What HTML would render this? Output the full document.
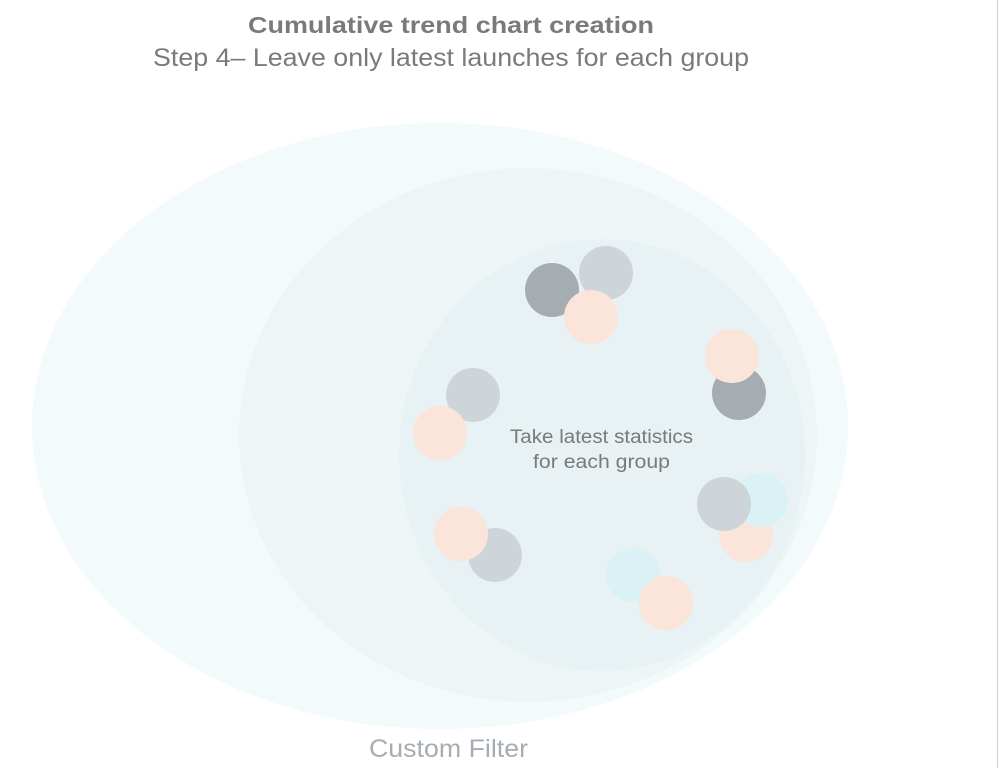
<!DOCTYPE html>
<html><head><style>
body{margin:0;background:#fff;width:1000px;height:768px;overflow:hidden;font-family:"Liberation Sans",sans-serif;}
</style></head><body>
<svg width="1000" height="768" xmlns="http://www.w3.org/2000/svg">
<line x1="997.5" y1="0" x2="997.5" y2="768" stroke="#d0d0d0" stroke-width="1"/>
<text x="248" y="33" textLength="406" lengthAdjust="spacingAndGlyphs" font-size="23" font-weight="bold" fill="#7a7a7a" font-family="Liberation Sans">Cumulative trend chart creation</text>
<text x="153" y="66" textLength="596" lengthAdjust="spacingAndGlyphs" font-size="25" fill="#7a7a7a" font-family="Liberation Sans">Step 4– Leave only latest launches for each group</text>
<ellipse cx="440" cy="426" rx="408" ry="303" fill="#f2fafc"/>
<ellipse cx="528" cy="435" rx="289" ry="267" fill="#edf5f7"/>
<ellipse cx="602" cy="455" rx="203" ry="216" fill="#e8f1f3"/>
<g>
<circle cx="552" cy="290" r="27" fill="#a5adb3"/>
<circle cx="606" cy="273" r="27" fill="#cdd5d8"/>
<circle cx="591" cy="317" r="27" fill="#fbe4da"/>
<circle cx="739" cy="393" r="27" fill="#a5adb3"/>
<circle cx="732" cy="356" r="27" fill="#fbe4da"/>
<circle cx="473" cy="395" r="27" fill="#cdd5d8"/>
<circle cx="440" cy="433" r="27" fill="#fbe4da"/>
<circle cx="495" cy="555" r="27" fill="#cdd5d8"/>
<circle cx="461" cy="534" r="27" fill="#fbe4da"/>
<circle cx="746" cy="535" r="27" fill="#fbe4da"/>
<circle cx="761" cy="500" r="27" fill="#daf1f5"/>
<circle cx="724" cy="504" r="27" fill="#cdd5d8"/>
<circle cx="633" cy="575" r="27" fill="#daf1f5"/>
<circle cx="666" cy="603" r="27" fill="#fbe4da"/>
</g>
<text x="510" y="443" textLength="183" lengthAdjust="spacingAndGlyphs" font-size="19" fill="#7a7a7a" font-family="Liberation Sans">Take latest statistics</text>
<text x="533" y="468" textLength="137" lengthAdjust="spacingAndGlyphs" font-size="19" fill="#7a7a7a" font-family="Liberation Sans">for each group</text>
<text x="369" y="757" textLength="159" lengthAdjust="spacingAndGlyphs" font-size="25" fill="#a5adb3" font-family="Liberation Sans">Custom Filter</text>
</svg>
</body></html>
